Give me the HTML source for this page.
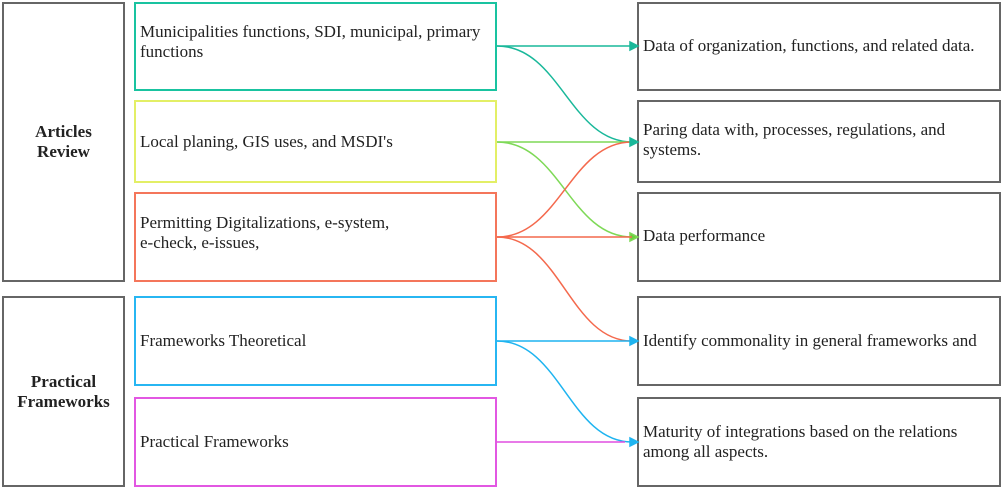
<!DOCTYPE html>
<html><head><style>
body{margin:0;width:1003px;height:489px;background:#fff;position:relative;overflow:hidden;font-family:"Liberation Serif","DejaVu Serif","Times New Roman",serif;color:#222}
.b{position:absolute;box-sizing:border-box;border:2px solid #666;display:flex;align-items:center;font-size:17px;line-height:20px;font-family:"Liberation Serif","DejaVu Serif","Times New Roman",serif}
.m{padding-left:4px;padding-right:6px}
.l{justify-content:center;text-align:center;font-weight:bold}
</style></head><body>
<div class="b l" style="left:2px;top:2px;width:123px;height:280px">Articles<br>Review</div>
<div class="b l" style="left:2px;top:296px;width:123px;height:191px">Practical<br>Frameworks</div>

<div class="b m" style="left:134px;top:2px;width:363px;height:89px;border-color:#19c3a0;padding-bottom:10px;padding-right:0">Municipalities functions, SDI, municipal, primary functions</div>
<div class="b m" style="left:134px;top:100px;width:363px;height:83px;border-color:#e3ef66">Local planing, GIS uses, and MSDI's</div>
<div class="b m" style="left:134px;top:192px;width:363px;height:90px;border-color:#f4765b;padding-bottom:8px">Permitting Digitalizations, e-system,<br>e-check, e-issues,</div>
<div class="b m" style="left:134px;top:296px;width:363px;height:90px;border-color:#27b6f2">Frameworks Theoretical</div>
<div class="b m" style="left:134px;top:397px;width:363px;height:90px;border-color:#e257e2">Practical Frameworks</div>

<div class="b m" style="left:637px;top:2px;width:364px;height:89px;padding-bottom:2px;white-space:nowrap;padding-right:0">Data of organization, functions, and related data.</div>
<div class="b m" style="left:637px;top:100px;width:364px;height:83px;padding-bottom:4px;padding-right:30px">Paring data with, processes, regulations, and systems.</div>
<div class="b m" style="left:637px;top:192px;width:364px;height:90px;padding-bottom:2px">Data performance</div>
<div class="b m" style="left:637px;top:296px;width:364px;height:90px;white-space:nowrap;padding-right:0">Identify commonality in general frameworks and</div>
<div class="b m" style="left:637px;top:397px;width:364px;height:90px;padding-right:20px">Maturity of integrations based on the relations among all aspects.</div>

<svg width="1003" height="489" style="position:absolute;left:0;top:0" fill="none" stroke-width="1.5">
<g stroke="#19b89a"><path d="M497 46H632"/><path d="M497 46C560 46 570 142 632 142"/><path d="M638 46l-8-4v8z" fill="#19b89a"/></g>
<g stroke="#7ed957"><path d="M497 142H632"/><path d="M497 142C560 142 570 237 632 237"/><path d="M638 237l-8-4v8z" fill="#6cd040"/></g>
<g stroke="#f4694d"><path d="M497 237H632"/><path d="M497 237C560 237 570 142 632 142"/><path d="M497 237C560 237 570 341 632 341"/><path d="M638 142l-8-4v8z" fill="#19b89a" stroke="#19b89a"/></g>
<g stroke="#1eb4f0"><path d="M497 341H632"/><path d="M497 341C560 341 570 442 632 442"/><path d="M638 341l-8-4v8z" fill="#1eb4f0"/><path d="M638 442l-8-4v8z" fill="#1eb4f0"/></g>
<g stroke="#e04ee0"><path d="M497 442H625"/></g>
</svg>
</body></html>
